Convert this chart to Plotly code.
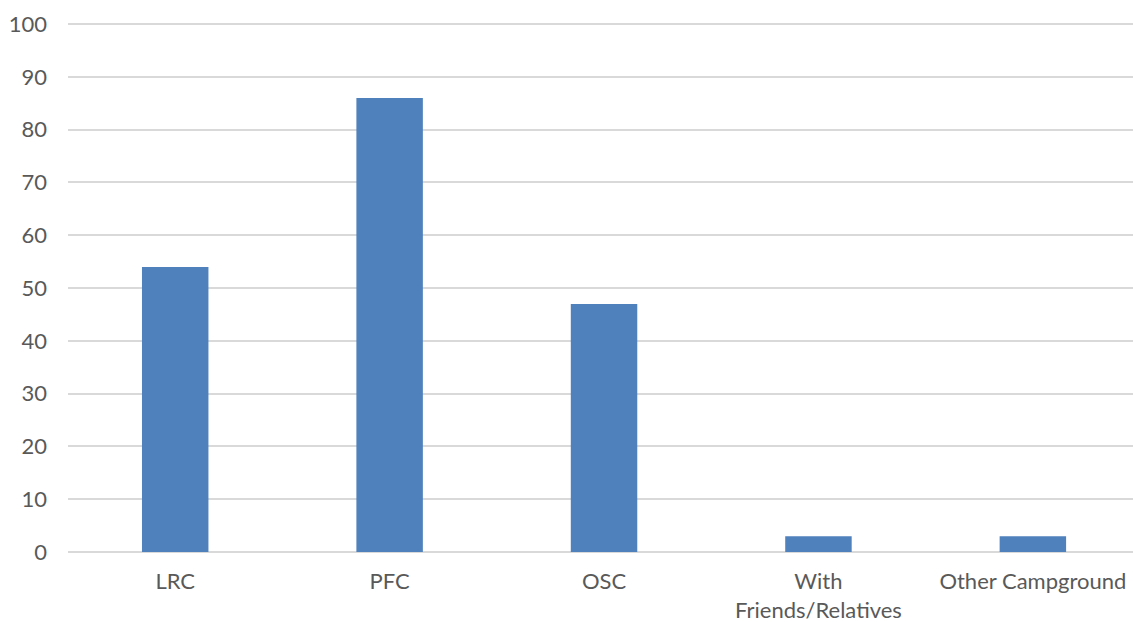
import plotly.graph_objects as go

categories = ["LRC", "PFC", "OSC", "With<br>Friends/Relatives", "Other Campground"]
values = [54, 86, 47, 3, 3]
y_ticks = [0, 10, 20, 30, 40, 50, 60, 70, 80, 90, 100]

fig = go.Figure(go.Bar(x=categories, y=values, marker=dict(color="#4f81bd", line=dict(width=0)), width=0.31))

fig.update_layout(
    width=1133, height=622,
    margin=dict(l=68, r=0, t=22, b=70),
    plot_bgcolor="white", paper_bgcolor="white",
    font=dict(family="Lato", size=22, color="#595959"),
    showlegend=False,
)
fig.update_xaxes(range=[-0.5, 4.467], showgrid=False, showline=False, ticks="", ticklabelstandoff=14,
                 automargin=False)
fig.update_yaxes(range=[0, 100.4], tickvals=y_ticks, showgrid=True, gridcolor="#d9d9d9", gridwidth=1.5,
                 zeroline=True, zerolinecolor="#d9d9d9", zerolinewidth=1.5, ticks="", ticklabelstandoff=20,
                 showline=False, automargin=False)

fig.write_html("out.html")
